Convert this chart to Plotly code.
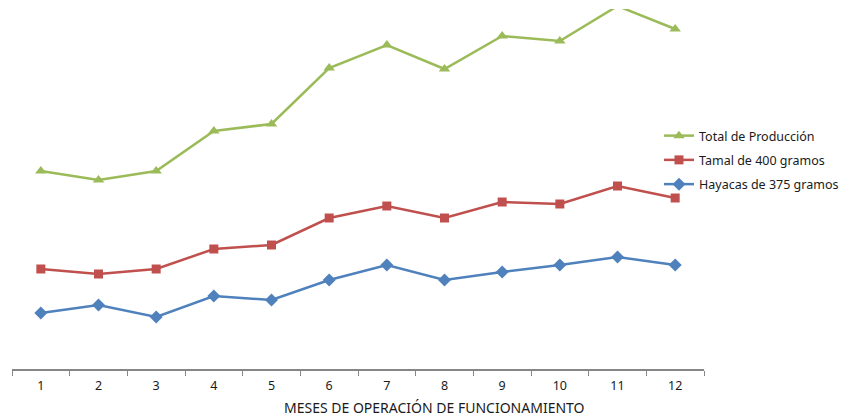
import plotly.graph_objects as go

meses = ["1", "2", "3", "4", "5", "6", "7", "8", "9", "10", "11", "12"]

total_produccion = [1980, 1890, 1980, 2380, 2450, 3010, 3240, 3000, 3330, 3280, 3630, 3400]
tamal_400 = [1000, 950, 1000, 1200, 1240, 1510, 1630, 1510, 1670, 1650, 1830, 1710]
hayacas_375 = [560, 640, 520, 730, 690, 890, 1040, 890, 970, 1040, 1120, 1040]

series = [
    ("Total de Producción", total_produccion, "#9BBB59", "triangle-up", 10),
    ("Tamal de 400 gramos", tamal_400, "#C0504D", "square", 9),
    ("Hayacas de 375 gramos", hayacas_375, "#4F81BD", "diamond", 10),
]

W, H = 842, 417
ML, MR, MT, MB = 12, 138, 9, 48
PW, PH = W - ML - MR, H - MT - MB

fig = go.Figure()
for i, (nombre, valores, color, simbolo, tam) in enumerate(series):
    fig.add_trace(go.Scatter(
        x=meses, y=valores, name=nombre, mode="lines+markers",
        line=dict(color=color, width=2.5),
        marker=dict(symbol=simbolo, size=tam, color=color),
        legendgroup=f"g{i}", cliponaxis=True,
    ))

fig.update_layout(
    width=W, height=H,
    margin=dict(l=ML, r=MR, t=MT, b=MB, autoexpand=False),
    plot_bgcolor="white", paper_bgcolor="white",
    font=dict(family="Noto Sans, DejaVu Sans, sans-serif", size=12, color="#1a1a1a"),
    showlegend=True,
    legend=dict(
        x=659 / W, xref="container", y=1 - 121 / H, yref="container",
        xanchor="left", yanchor="top",
        traceorder="grouped", tracegroupgap=5,
        font=dict(size=12.5, color="#1a1a1a"),
        bgcolor="rgba(0,0,0,0)", itemwidth=30,
    ),
    xaxis=dict(
        type="category", range=[-0.5, 11.5],
        showline=True, linecolor="#868686", linewidth=1.5,
        ticks="outside", tickson="boundaries", ticklen=5, tickcolor="#868686",
        showgrid=False, zeroline=False,
        tickfont=dict(size=12.5, color="#1a1a1a"),
        ticklabelstandoff=4,
    ),
    yaxis=dict(range=[0, 3600], visible=False, showgrid=False, zeroline=False),
    annotations=[dict(
        text="MESES DE OPERACIÓN DE FUNCIONAMIENTO",
        x=(435 - ML) / PW, xref="paper",
        y=((H - MB) - 407) / PH, yref="paper",
        xanchor="center", yanchor="middle", showarrow=False,
        font=dict(size=14, color="#1a1a1a"),
    )],
)

fig.write_html("out.html")
